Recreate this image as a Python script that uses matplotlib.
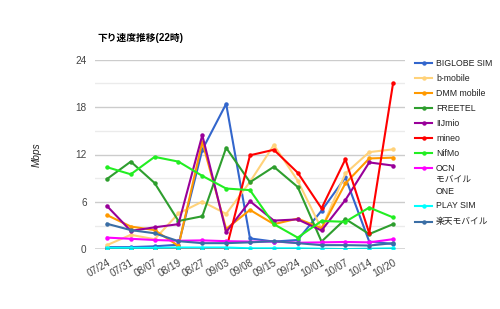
import matplotlib
matplotlib.use("Agg")
import matplotlib.pyplot as plt
from matplotlib.lines import Line2D

plt.rcParams['font.family'] = ['Liberation Sans', 'Noto Sans CJK JP', 'DejaVu Sans']

# dates of the measurements
dates = ['07/24', '07/31', '08/07', '08/19', '08/27', '09/03', '09/08',
         '09/15', '09/24', '10/01', '10/07', '10/14', '10/20']

# download speed at 22h, Mbps
biglobe = [0.3, 0.3, 0.4, 0.6, 12.6, 18.4, 1.4, 1.0, 1.2, 4.9, 9.1, 1.0, 0.7]
bmobile = [0.55, 1.85, 1.3, 4.55, 6.05, 4.5, 8.55, 13.2, 8.7, 2.6, 9.6, 12.3, 12.65]
dmm = [4.35, 2.9, 2.45, 0.45, 13.6, 2.6, 5.0, 3.2, 3.9, 2.7, 8.35, 11.5, 11.6]
freetel = [8.9, 11.1, 8.4, 3.6, 4.2, 12.85, 8.5, 10.45, 7.9, 1.0, 3.85, 1.95, 3.2]
iijmio = [5.5, 2.35, 2.8, 3.2, 14.45, 2.2, 6.1, 3.65, 3.8, 2.4, 6.25, 11.0, 10.6]
mineo = [0, 0, 0, 0, 0, 0, 11.9, 12.6, 9.7, 5.2, 11.4, 2.05, 21.0]
nifmo = [10.4, 9.5, 11.7, 11.1, 9.3, 7.7, 7.5, 3.2, 1.5, 3.6, 3.5, 5.3, 4.05]
ocn = [1.5, 1.35, 1.2, 1.1, 1.15, 1.05, 1.0, 1.0, 0.85, 0.9, 0.95, 0.9, 1.3]
playsim = [0.2, 0.2, 0.2, 0.25, 0.25, 0.25, 0.15, 0.15, 0.15, 0.1, 0.05, 0.1, 0.15]
rakuten = [3.25, 2.45, 2.05, 1.05, 0.8, 0.8, 0.9, 1.05, 0.8, 0.55, 0.55, 0.5, 0.8]

names = ['BIGLOBE SIM', 'b-mobile', 'DMM mobile', 'FREETEL', 'IIJmio', 'mineo',
         'NifMo', 'OCN\nモバイル\nONE', 'PLAY SIM', '楽天モバイル']
series = [biglobe, bmobile, dmm, freetel, iijmio, mineo, nifmo, ocn, playsim, rakuten]
colors = ['#3366cc', '#ffd27a', '#ff9900', '#2e9e2e', '#990099', '#ff0000',
          '#22ee22', '#ff00ff', '#00ffff', '#3a6ea5']

fig = plt.figure(figsize=(5.0, 3.09), dpi=100)
ax = fig.add_axes([0.19, 0.1926, 0.62, 0.6148])

x = list(range(len(dates)))
for vals, c in zip(series, colors):
    ax.plot(x, vals, color=c, lw=1.5, marker='o', ms=2.2, zorder=3)

# grid: major every 6, minor every 3
for v in range(3, 25, 3):
    ax.axhline(v, color='#cccccc' if v % 6 == 0 else '#ebebeb', lw=1, zorder=1)
ax.axhline(0, color='#333333', lw=1, zorder=4)

ax.set_xlim(-0.5, len(dates) - 0.5)
ax.set_ylim(0, 24)
ax.set_yticks([0, 6, 12, 18, 24])
ax.set_xticks(x)
ax.set_xticklabels(dates, rotation=30, ha='right', rotation_mode='anchor')
ax.tick_params(length=0, labelsize=7.2, colors='#444444', pad=6)
ax.tick_params(axis='x', pad=6)
for s in ax.spines.values():
    s.set_visible(False)

ax.set_ylabel('Mbps', style='italic', fontsize=7.2, color='#222222', labelpad=24)
fig.text(0.194, 0.876, '下り速度推移(22時)', fontsize=7, fontweight='bold', va='center')

# legend drawn by hand so the handle lines up with the first text line
ys = [63.3, 78.3, 93.3, 108.3, 123.2, 138.3, 153.2, 168.2, 206.0, 221.5]
for name, c, yp in zip(names, colors, ys):
    yf = 1 - yp / 309
    fig.add_artist(Line2D([0.830, 0.864], [yf, yf], color=c, lw=1.5))
    fig.add_artist(Line2D([0.847], [yf], color=c, marker='o', ms=2.2))
    fig.text(0.872, yf + 4.5 / 309, name, fontsize=6.3, color='#222222',
             va='top', linespacing=1.35)

fig.savefig('out.png', dpi=100)
